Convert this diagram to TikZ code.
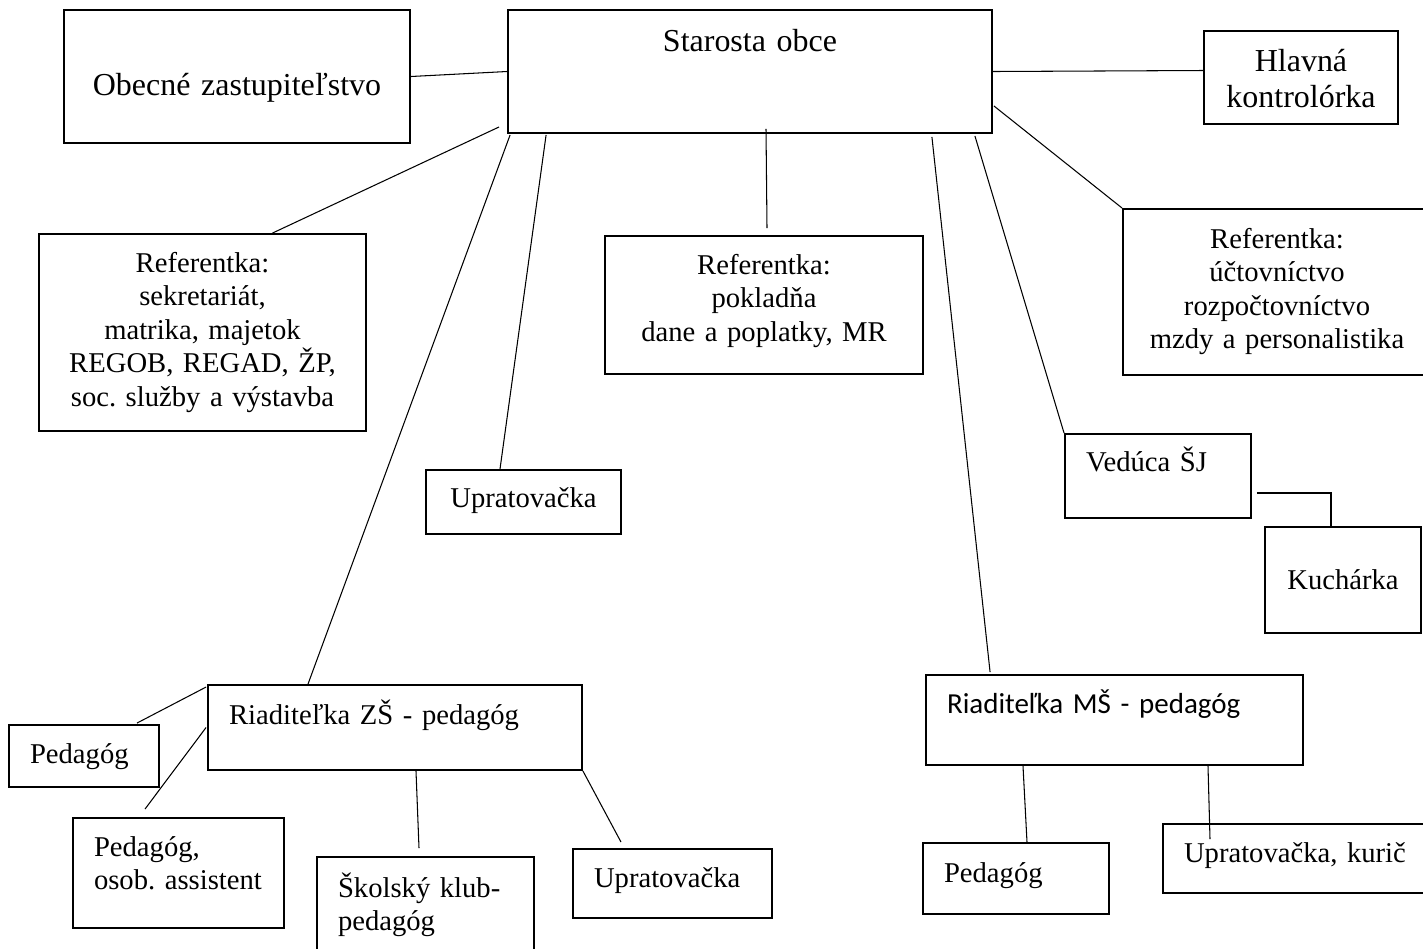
\documentclass[tikz,border=0pt]{standalone}
\usepackage{fontspec}
\setmainfont{Liberation Serif}
\newfontfamily\carlito{Carlito}
\frenchspacing
\begin{document}
\begin{tikzpicture}[x=0.02cm,y=-0.02cm,
		box/.style={draw,line width=1.1pt,inner xsep=0.42cm,inner ysep=0pt,font=\fontsize{16.3}{19.1}\selectfont},
		big/.style={font=\fontsize{18.2}{20.5}\selectfont},
		sans/.style={font=\carlito\fontsize{16.5}{19.1}\selectfont},
		wh/.style 2 args={minimum width=#1,minimum height=#2},
		lift/.style={text height=0pt,text depth=#1},
		sink/.style={text height=#1,text depth=0pt},
		link/.style={line width=0.6pt}]
	\useasboundingbox(0,0)rectangle(1423,948);

	\node[box,big,wh={6.92cm}{2.66cm},text width=6.08cm,align=center,sink=0.74cm](zast)at(237,76.5){Obecné zastupiteľstvo};
	\node[box,big,wh={9.68cm}{2.46cm},text width=8.84cm,align=center,lift=0.82cm](starosta)at(750,71.5){Starosta obce};
	\node[box,big,wh={3.88cm}{1.86cm},text width=3.04cm,align=center,lift=0.26cm](kontrola)at(1301,77.5){Hlavná\\kontrolórka};

	\node[box,wh={6.54cm}{3.94cm},text width=5.7cm,align=center,lift=2.42cm](refA)at(202.5,332.5)
		{Referentka:\\sekretariát,\\matrika, majetok\\REGOB, REGAD, ŽP,\\\mbox{soc. služby a výstavba}};
	\node[box,wh={6.36cm}{2.76cm},text width=5.52cm,align=center,lift=1.24cm](refB)at(764,305)
		{Referentka:\\pokladňa\\dane a poplatky, MR};
	\node[box,wh={6.16cm}{3.32cm},text width=5.32cm,align=center,lift=1.76cm](refC)at(1277,292)
		{Referentka:\\účtovníctvo\\rozpočtovníctvo\\\mbox{mzdy a personalistika}};

	\node[box,wh={3.72cm}{1.68cm},text width=2.88cm,align=left,lift=0.2cm](veduca)at(1158,476){Vedúca ŠJ};
	\node[box,wh={3.12cm}{2.12cm},inner xsep=0.2cm,text width=2.72cm,align=center,sink=0.36cm](kuch)at(1343,580){Kuchárka};
	\node[box,wh={3.9cm}{1.28cm},text width=3.06cm,align=center,sink=0.2cm](uprA)at(523.5,502){Upratovačka};

	\node[box,wh={7.48cm}{1.7cm},text width=6.64cm,align=left,lift=0.14cm](zs)at(395,727.5){Riaditeľka ZŠ - pedagóg};
	\node[box,wh={3cm}{1.24cm},text width=2.16cm,align=left,sink=0.28cm](pedA)at(84,756){Pedagóg};
	\node[box,wh={4.22cm}{2.2cm},text width=3.38cm,align=left,lift=0.68cm](asist)at(178.5,873){Pedagóg,\\\mbox{osob. assistent}};
	\node[box,wh={4.34cm}{2.06cm},text width=3.5cm,align=left,lift=0.46cm](klub)at(425.5,908.5){Školský klub-\\pedagóg};
	\node[box,wh={3.98cm}{1.38cm},text width=3.14cm,align=left,sink=0.14cm](uprB)at(672.5,883.5){Upratovačka};

	\node[box,sans,wh={7.54cm}{1.8cm},text width=6.7cm,align=left,lift=0.28cm](ms)at(1114.5,720){Riaditeľka MŠ - pedagóg};
	\node[box,wh={3.72cm}{1.42cm},text width=2.88cm,align=left,sink=0.14cm](pedB)at(1016,878.5){Pedagóg};
	\node[box,wh={5.38cm}{1.38cm},text width=4.54cm,align=left,sink=0.14cm](kuric)at(1297.5,858.5){\mbox{Upratovačka, kurič}};

	\draw[link]
		(zast.east)--(starosta.west)
		(starosta.east)--([shift={(0,-7)}]kontrola.west)
		([shift={(-8,-7)}]starosta.south west)--([shift={(70,0)}]refA.north)
		([shift={(3,1)}]starosta.south west)--([shift={(-87,0)}]zs.north)
		([shift={(39,1)}]starosta.south west)--([shift={(-23.5,0)}]uprA.north)
		([shift={(16,-5)}]starosta.south)--([shift={(3,-7)}]refB.north)
		([shift={(-61,3)}]starosta.south east)--([shift={(65,-2)}]ms.north west)
		([shift={(-18,2)}]starosta.south east)--(veduca.north west)
		([shift={(1,-28)}]starosta.south east)--(refC.north west);
	\draw[link]([shift={(5,17)}]veduca.east)-|([shift={(-12,0)}]kuch.north);
	\draw[link]
		([shift={(-1,3)}]zs.north west)--([shift={(53,-1)}]pedA.north)
		([shift={(-1,0)}]zs.west)--([shift={(-33.5,-8)}]asist.north)
		([shift={(21,0)}]zs.south)--([shift={(-6.5,-8)}]klub.north)
		(zs.south east)--([shift={(-51.5,-6)}]uprB.north)
		([shift={(-91.5,0)}]ms.south)--([shift={(11,0)}]pedB.north)
		([shift={(93.5,0)}]ms.south)--([shift={(-87.5,16)}]kuric.north);
\end{tikzpicture}
\end{document}
